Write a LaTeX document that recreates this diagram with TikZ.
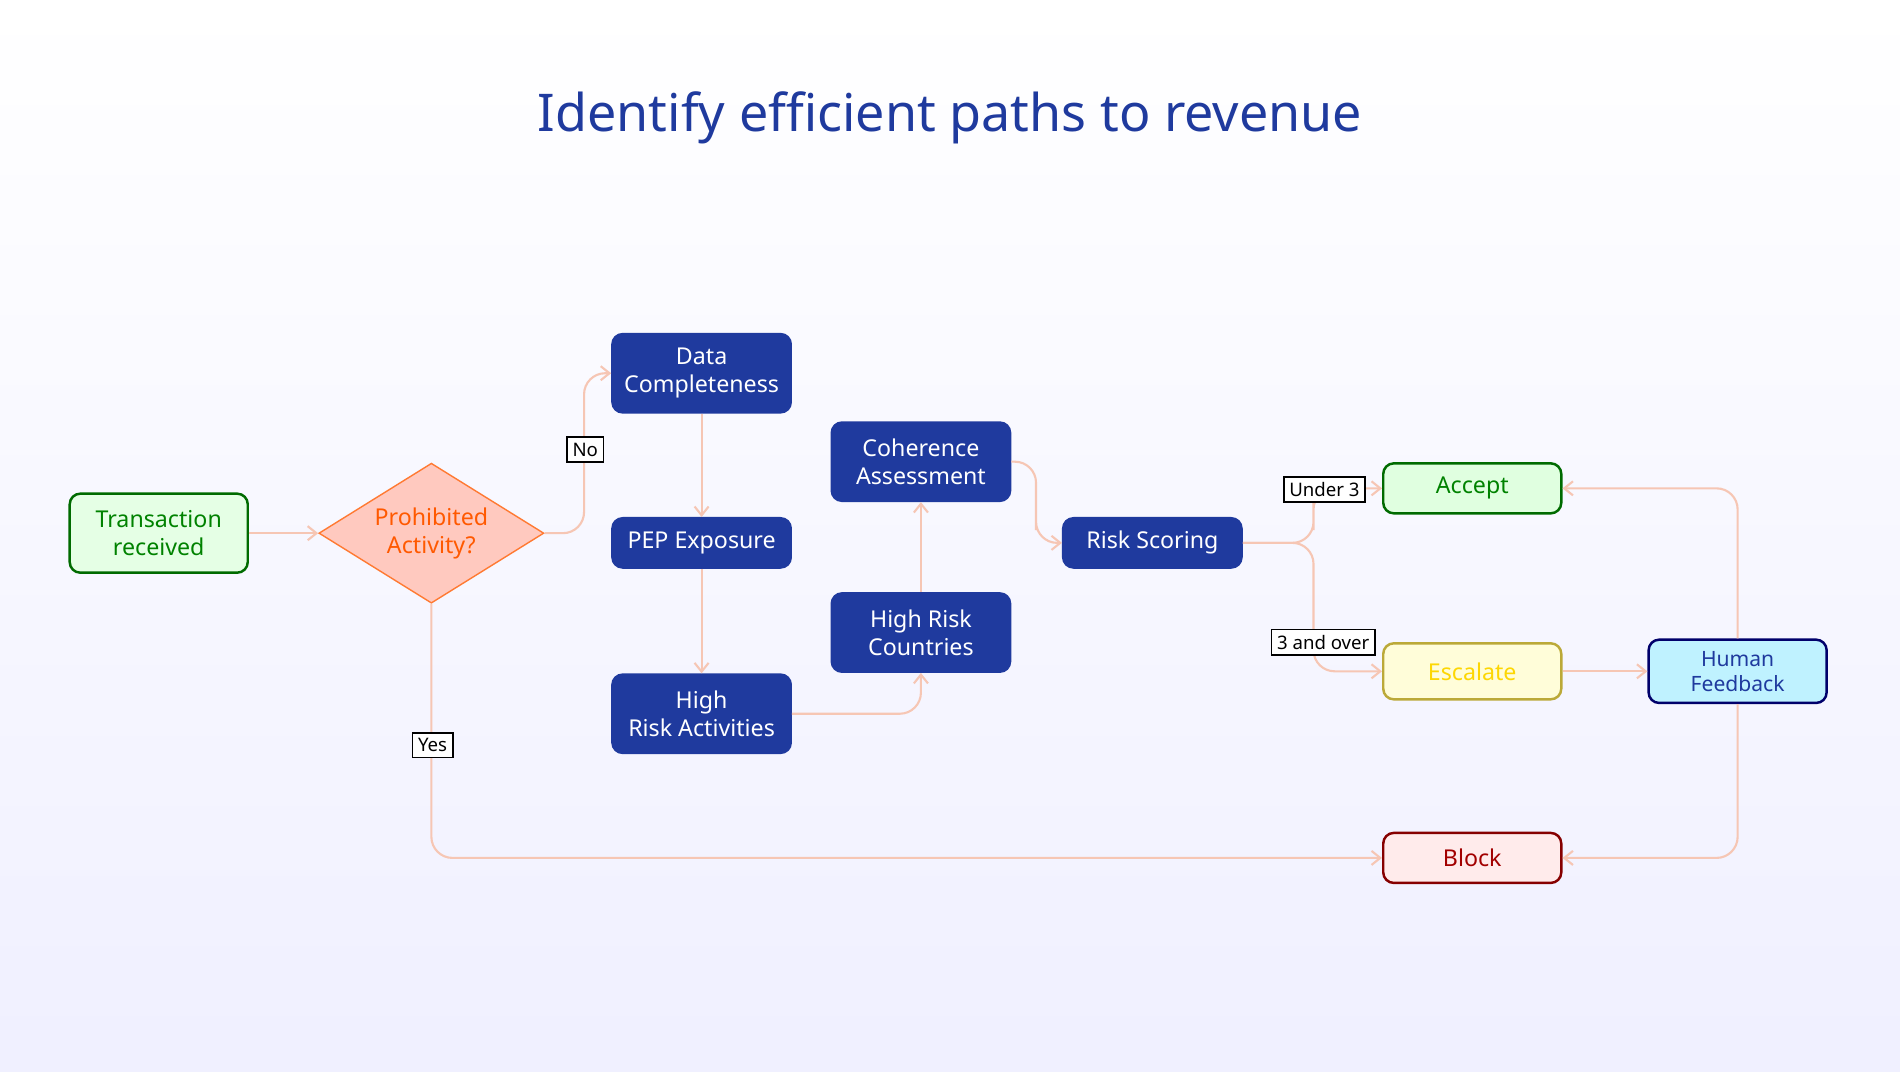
\documentclass[tikz,border=0pt]{standalone}
\usepackage{fontspec}
\setmainfont{Noto Sans}
\usetikzlibrary{shapes.geometric,arrows.meta}
\definecolor{flowblue}{HTML}{1F3A9E}
\definecolor{edgecol}{HTML}{F6C6B4}
\tikzset{
	check/.style={draw=flowblue, fill=flowblue, rounded corners=3pt, text=white, align=center, minimum width=1.79cm, font=\fontsize{6.6}{8}\selectfont, line width=0.5pt},
	outcome/.style={draw=#1!70!black, rounded corners=3pt, align=center, minimum width=1.78cm, font=\fontsize{6.6}{8}\selectfont, line width=0.7pt, text=#1!85!black},
	flow/.style={draw=edgecol, line width=0.6pt, rounded corners=6pt, -{Straight Barb[length=2.5pt,width=4pt]}},
	tag/.style={draw=black, fill=white, font=\fontsize{5.3}{6}\selectfont, inner sep=1.6pt, line width=0.5pt}
}
\begin{document}
\begin{tikzpicture}[x=0.012117cm, y=-0.012117cm]
	% Fondo
		\shade[top color=white, bottom color=blue!6] (0,0) rectangle (1568,884);
		\useasboundingbox (0,0) rectangle (1568,884);
		\node[text=flowblue, font=\fontsize{14.8}{17}\selectfont] (title) at (784,97) {Identify efficient paths to revenue};

	% Entrada y decisión
		\node[outcome=green!60!black, fill=green!10, minimum height=0.79cm] (trans) at (131,440) {Transaction\\received};
		\node[diamond, draw=orange!70!red!80, fill=orange!30!red!25!white, text=orange!70!red, aspect=1.6, minimum width=2.25cm, minimum height=1.4cm, inner sep=0pt, align=center, font=\fontsize{6.6}{8}\selectfont] (prohib) at (356,440) {Prohibited\\Activity?};

	% Controles
		\node[check, minimum height=0.79cm] (datac) at (579,308) {Data\\Completeness};
		\node[check, minimum height=0.5cm] (pep) at (579,448) {PEP Exposure};
		\node[check, minimum height=0.79cm] (hra) at (579,589) {High\\Risk Activities};
		\node[check, minimum height=0.79cm] (hrc) at (760,522) {High Risk\\Countries};
		\node[check, minimum height=0.79cm] (coher) at (760,381) {Coherence\\Assessment};
		\node[check, minimum height=0.5cm] (score) at (951,448) {Risk Scoring};

	% Resultados
		\node[outcome=green!60!black, fill=green!12, minimum height=0.5cm] (accept) at (1215,403) {Accept};
		\node[outcome=yellow!80!orange, fill=yellow!15, minimum height=0.56cm, text=yellow!75!orange] (escal) at (1215,554) {Escalate};
		\node[outcome=blue!60!black, fill=blue!20!cyan!25, minimum height=0.56cm, text=flowblue, font=\fontsize{6}{7}\selectfont] (human) at (1434,554) {Human\\Feedback};
		\node[outcome=red!75!black, fill=red!8, minimum height=0.5cm] (block) at (1215,708) {Block};

	% Conexiones
		\draw[flow] (trans) -- (prohib);
		\draw[flow] (prohib.east) -| (482,380) |- (datac.west);
		\node[tag] (no) at (483,371) {No};
		\draw[flow] (prohib.south) |- (block.west);
		\node[tag] (yes) at (357,615) {Yes};
		\draw[flow] (datac) -- (pep);
		\draw[flow] (pep) -- (hra);
		\draw[flow] (hra.east) -| (hrc.south);
		\draw[flow] (hrc) -- (coher);
		\draw[flow] (coher.east) -| (855,420) |- (score.west);
		\draw[flow] (score.east) -| (1084,420) |- (accept.west);
		\draw[flow] (score.east) -| (1084,500) |- (escal.west);
		\node[tag] (under) at (1093,404) {Under 3};
		\node[tag] (over) at (1092,530) {3 and over};
		\draw[flow] (escal) -- (human);
		\draw[flow] (human.north) |- (accept.east);
		\draw[flow] (human.south) |- (block.east);
\end{tikzpicture}
\end{document}
